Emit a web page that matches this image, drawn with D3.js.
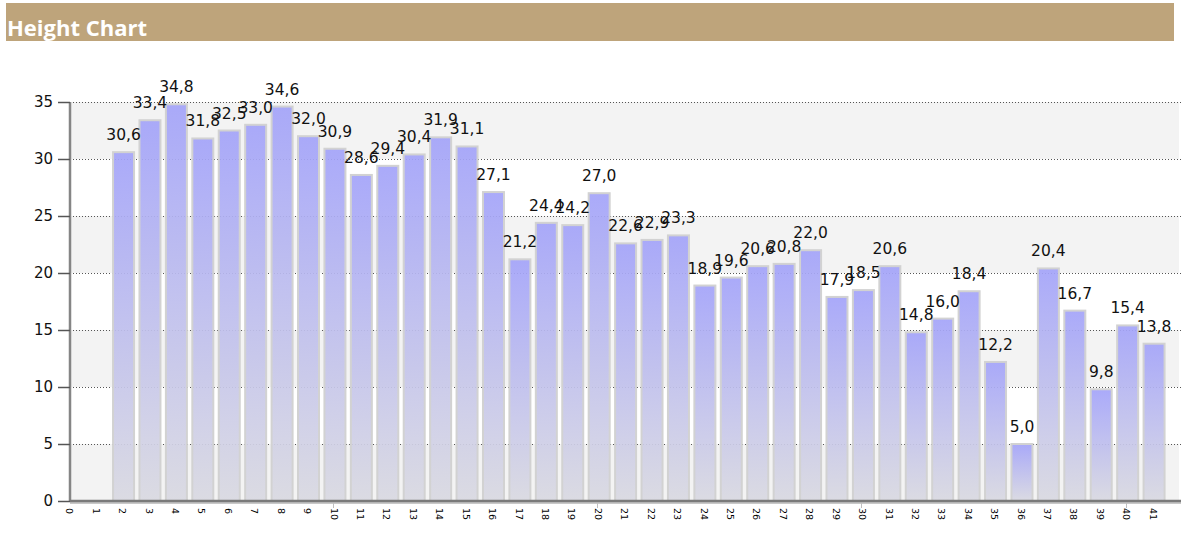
<!DOCTYPE html>
<html>
<head>
<meta charset="utf-8">
<script src="https://cdn.jsdelivr.net/npm/d3@7"></script>
<style>
  html, body { margin: 0; padding: 0; background: #ffffff; }
  svg { display: block; }
</style>
</head>
<body>
<svg id="chart" width="1191" height="539"></svg>
<script>
// ---- data ----
const title = "Height Chart";
const categories = d3.range(0, 42);           // x tick labels 0..41
const values = [null, null,
  30.6, 33.4, 34.8, 31.8, 32.5, 33.0, 34.6, 32.0, 30.9, 28.6,
  29.4, 30.4, 31.9, 31.1, 27.1, 21.2, 24.4, 24.2, 27.0, 22.6,
  22.9, 23.3, 18.9, 19.6, 20.6, 20.8, 22.0, 17.9, 18.5, 20.6,
  14.8, 16.0, 18.4, 12.2, 5.0, 20.4, 16.7, 9.8, 15.4, 13.8];
const yTicks = [0, 5, 10, 15, 20, 25, 30, 35];
const xMajorTicks = [10, 20, 30, 40];

const svg = d3.select("#chart");

// ---- title bar ----
svg.append("rect").attr("x", 6).attr("y", 3).attr("width", 1168).attr("height", 38)
  .attr("fill", "#bea47b");
svg.append("text").attr("x", 7).attr("y", 36).text(title)
  .attr("fill", "#ffffff").attr("font-family", "Open Sans, sans-serif")
  .attr("font-weight", 700).attr("font-size", 22);

// ---- scales ----
const pLeft = 70, pRight = 1179, pTop = 102, pBottom = 501;
const x = d3.scaleLinear().domain([0, 42]).range([70.7, 1180.5]);
const y = d3.scaleLinear().domain([0, 35]).range([pBottom, pTop]);

// gradient for bars
const defs = svg.append("defs");
const grad = defs.append("linearGradient").attr("id", "barGrad")
  .attr("x1", 0).attr("y1", 0).attr("x2", 0).attr("y2", 1);
grad.append("stop").attr("offset", "0%").attr("stop-color", "#a3a3f9");
grad.append("stop").attr("offset", "100%").attr("stop-color", "#d9d9e1");

// ---- alternating bands ----
const bandPairs = d3.pairs(yTicks).filter((p, i) => i % 2 === 0); // 0-5,10-15,20-25,30-35
svg.append("g").selectAll("rect").data(bandPairs).join("rect")
  .attr("x", pLeft).attr("width", pRight - pLeft)
  .attr("y", d => y(d[1])).attr("height", d => y(d[0]) - y(d[1]))
  .attr("fill", "#f3f3f3");

// ---- gridlines ----
svg.append("g").selectAll("line").data(yTicks.filter(t => t > 0)).join("line")
  .attr("x1", pLeft).attr("x2", 1181)
  .attr("y1", d => Math.round(y(d)) + 0.5).attr("y2", d => Math.round(y(d)) + 0.5)
  .attr("stroke", "#555").attr("stroke-width", 1).attr("stroke-dasharray", "1,2");

// ---- bars ----
const barData = categories.map((c, i) => ({ c, v: values[i] })).filter(d => d.v != null);
const barW = 21;
svg.append("g").selectAll("rect").data(barData).join("rect")
  .attr("x", d => x(d.c) - barW / 2)
  .attr("y", d => y(d.v))
  .attr("width", barW)
  .attr("height", d => y(0) - y(d.v))
  .attr("fill", "url(#barGrad)").attr("fill-opacity", 0.92)
  .attr("stroke", "#d2d2d2").attr("stroke-width", 2);

// ---- value labels ----
const fmt = v => d3.format(".1f")(v).replace(".", ",");
svg.append("g").selectAll("text").data(barData).join("text")
  .attr("x", d => x(d.c))
  .attr("y", d => y(d.v) - 12)
  .attr("text-anchor", "middle")
  .attr("font-family", "DejaVu Sans, sans-serif").attr("font-size", 15.5)
  .attr("fill", "#111")
  .text(d => fmt(d.v));

// ---- y axis ----
svg.append("line").attr("x1", pLeft).attr("x2", pLeft).attr("y1", pTop).attr("y2", pBottom + 1)
  .attr("stroke", "#858585").attr("stroke-width", 2.5);
const yg = svg.append("g");
yg.selectAll("line").data(yTicks).join("line")
  .attr("x1", 58).attr("x2", pLeft)
  .attr("y1", d => Math.round(y(d)) + 0.5).attr("y2", d => Math.round(y(d)) + 0.5)
  .attr("stroke", "#555").attr("stroke-width", 1.5);
yg.selectAll("text").data(yTicks).join("text")
  .attr("x", 53).attr("y", d => y(d)).attr("dy", "0.36em")
  .attr("text-anchor", "end")
  .attr("font-family", "DejaVu Sans, sans-serif").attr("font-size", 15)
  .attr("fill", "#111").text(d => d);

// ---- x axis ----
svg.append("line").attr("x1", pLeft).attr("x2", 1181).attr("y1", pBottom + 2).attr("y2", pBottom + 2)
  .attr("stroke", "#c8c8c8").attr("stroke-width", 2);
svg.append("line").attr("x1", pLeft).attr("x2", 1181).attr("y1", pBottom).attr("y2", pBottom)
  .attr("stroke", "#7a7a7a").attr("stroke-width", 2.5);
svg.append("g").selectAll("line").data(xMajorTicks).join("line")
  .attr("x1", d => Math.round(x(d)) - 1.5).attr("x2", d => Math.round(x(d)) - 1.5)
  .attr("y1", pBottom + 2).attr("y2", pBottom + 7)
  .attr("stroke", "#c0c0c0").attr("stroke-width", 1);
svg.append("g").selectAll("text").data(categories).join("text")
  .attr("transform", d => `translate(${x(d) - 1},${508}) rotate(90)`)
  .attr("dy", "0.35em")
  .attr("text-anchor", "start")
  .attr("font-family", "DejaVu Sans, sans-serif").attr("font-size", 9.5)
  .attr("fill", "#000").text(d => d);
</script>
</body>
</html>
